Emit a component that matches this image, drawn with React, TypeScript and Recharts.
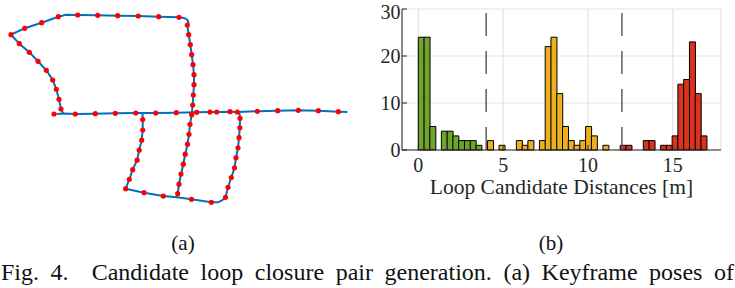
import {
  ComposedChart,
  Line,
  Scatter,
  Bar,
  Cell,
  XAxis,
  YAxis,
  CartesianGrid,
  ReferenceLine,
  Label,
} from "recharts";

// (a) keyframe poses, metres (x east, y north)
const keyframes: [number, number][] = [
  // main corridor
  [0.0, 0.0], [2.13, 0.0], [4.13, 0.03], [6.13, 0.07], [8.17, 0.1], [10.17, 0.1],
  [12.23, 0.13], [14.27, 0.17], [15.6, 0.2], [16.27, 0.2], [17.6, 0.23], [18.33, 0.2],
  [20.33, 0.27], [22.37, 0.33], [24.43, 0.37], [26.43, 0.33], [28.43, 0.23],
  // upper loop
  [0.7, 0.5], [0.5, 1.47], [0.23, 2.47], [-0.13, 3.4], [-0.77, 4.37], [-1.6, 5.27],
  [-2.47, 6.17], [-3.47, 7.03], [-4.3, 7.93], [-2.93, 8.57], [-1.23, 9.13], [0.43, 9.73],
  [2.37, 9.9], [4.37, 9.87], [6.37, 9.83], [8.43, 9.8], [10.47, 9.73], [12.5, 9.67],
  [13.33, 8.9], [13.47, 7.93], [13.63, 6.93], [13.77, 5.93], [13.9, 4.93], [14.0, 3.93],
  [14.0, 2.93], [13.93, 1.9], [13.87, 0.9], [13.77, -0.07], [13.6, -1.03], [13.5, -2.03],
  [13.35, -3.02], [13.12, -4.02], [12.93, -5.02], [12.7, -6.0], [12.5, -7.02], [12.37, -7.97],
  // lower loop
  [8.87, -0.55], [8.87, -1.6], [8.77, -2.62], [8.52, -3.62], [8.31, -4.62], [7.87, -5.57],
  [7.53, -6.53], [7.17, -7.47], [9.0, -7.87], [10.93, -8.21], [13.75, -8.53], [15.73, -8.83],
  [17.15, -8.33], [17.4, -7.33], [17.73, -6.35], [18.05, -5.38], [18.2, -4.38], [18.4, -3.38],
  [18.5, -2.37], [18.58, -1.38], [18.6, -0.43],
];

const corridorPath: [number, number][] = [
  [0.25, 0.0], [0.93, 0.04], [2.13, 0.0], [4.13, 0.03], [6.13, 0.07], [8.17, 0.1],
  [10.17, 0.1], [12.23, 0.13], [14.27, 0.17], [15.6, 0.2], [16.27, 0.2], [17.6, 0.23],
  [18.33, 0.2], [20.33, 0.27], [22.37, 0.33], [24.43, 0.37], [26.43, 0.33], [28.43, 0.23],
  [29.33, 0.2],
];

const upperPath: [number, number][] = [
  [0.93, 0.04], [0.7, 0.5], [0.5, 1.47], [0.23, 2.47], [-0.13, 3.4], [-0.77, 4.37],
  [-1.6, 5.27], [-2.47, 6.17], [-3.47, 7.03], [-4.3, 7.93], [-2.93, 8.57], [-1.23, 9.13],
  [0.43, 9.73], [1.2, 9.92], [2.37, 9.9], [4.37, 9.87], [6.37, 9.83], [8.43, 9.8],
  [10.47, 9.73], [12.5, 9.67], [13.0, 9.6], [13.35, 9.4], [13.45, 9.1], [13.33, 8.9],
  [13.47, 7.93], [13.63, 6.93], [13.77, 5.93], [13.9, 4.93], [14.0, 3.93], [14.0, 2.93],
  [13.93, 1.9], [13.87, 0.9], [13.77, -0.07], [13.6, -1.03], [13.5, -2.03], [13.35, -3.02],
  [13.12, -4.02], [12.93, -5.02], [12.7, -6.0], [12.5, -7.02], [12.37, -7.97], [12.27, -8.27],
];

const lowerPath: [number, number][] = [
  [8.85, 0.1], [8.87, -0.55], [8.87, -1.6], [8.77, -2.62], [8.52, -3.62], [8.31, -4.62],
  [7.87, -5.57], [7.53, -6.53], [7.17, -7.47], [9.0, -7.87], [10.93, -8.21], [12.27, -8.32],
  [13.75, -8.53], [15.73, -8.83], [16.4, -8.83], [16.8, -8.65], [17.15, -8.33], [17.4, -7.33],
  [17.73, -6.35], [18.05, -5.38], [18.2, -4.38], [18.4, -3.38], [18.5, -2.37], [18.58, -1.38],
  [18.6, -0.43], [18.55, 0.05], [18.43, 0.2],
];

// (b) histogram of loop candidate distances
const binCenters = [
  0.17, 0.51, 0.85, 1.19, 1.53, 1.87, 2.21, 2.55, 2.89, 3.23,
  3.57, 3.91, 4.25, 4.59, 4.93, 5.27, 5.61, 5.95, 6.29, 6.63,
  6.97, 7.31, 7.65, 7.99, 8.33, 8.67, 9.01, 9.35, 9.69, 10.03,
  10.37, 10.71, 11.05, 11.39, 11.73, 12.07, 12.41, 12.75, 13.09, 13.43,
  13.77, 14.11, 14.45, 14.79, 15.13, 15.47, 15.81, 16.15, 16.49, 16.83,
];
const binCounts = [
  24, 24, 5, 0, 4, 4, 3, 2, 2, 2,
  1, 0, 2, 0, 1, 0, 0, 2, 1, 2,
  0, 2, 22, 24, 12, 5, 2, 1, 2, 5,
  3, 0, 1, 0, 0, 1, 1, 0, 0, 2,
  2, 0, 1, 1, 3, 14, 15, 23, 12, 3,
];
const thresholds = [4, 12];
const xTicks = [0, 5, 10, 15];
const yTicks = [0, 10, 20, 30];

const serif = "Liberation Serif, Times New Roman, serif";
const axisColor = "#262626";

const toPoints = (pts: [number, number][]) => pts.map(([x, y]) => ({ x, y }));

const histData = binCenters.map((x, i) => ({ x, count: binCounts[i] }));

const binColor = (x: number) =>
  x < thresholds[0] ? "#6fa32b" : x < thresholds[1] ? "#ecb01e" : "#d9321d";

const tickStyle = { fill: axisColor, fontSize: 20, fontFamily: serif };

const TrajectoryPlot = () => (
  <ComposedChart
    width={360}
    height={220}
    margin={{ top: 0, right: 0, bottom: 0, left: 0 }}
  >
    <XAxis type="number" dataKey="x" domain={[-5.4, 30.6]} hide allowDataOverflow />
    <YAxis type="number" dataKey="y" domain={[-10.6, 11.4]} hide allowDataOverflow />
    {[corridorPath, upperPath, lowerPath].map((p, i) => (
      <Line
        key={i}
        data={toPoints(p)}
        dataKey="y"
        type="linear"
        stroke="#0072bd"
        strokeWidth={2}
        dot={false}
        activeDot={false}
        isAnimationActive={false}
      />
    ))}
    <Scatter
      data={toPoints(keyframes)}
      isAnimationActive={false}
      activeShape={(p: any) => <circle cx={p.cx} cy={p.cy} r={2.6} fill="#ff0000" />}
      shape={(p: any) => <circle cx={p.cx} cy={p.cy} r={2.6} fill="#ff0000" />}
    />
  </ComposedChart>
);

const Histogram = () => (
  <ComposedChart
    width={365}
    height={200}
    data={histData}
    margin={{ top: 9, right: 14, bottom: 0, left: 0 }}
    barCategoryGap={0}
    barGap={0}
    style={{ fontFamily: serif }}
  >
    <CartesianGrid stroke="#e3e3e3" strokeWidth={1.2} />
    <XAxis
      type="number"
      dataKey="x"
      domain={[-0.96, 17.84]}
      ticks={xTicks}
      height={50}
      tickSize={-5}
      tickMargin={13}
      stroke={axisColor}
      tick={tickStyle}
      allowDataOverflow
    >
      <Label
        value="Loop Candidate Distances [m]"
        position="insideBottom"
        offset={6}
        fill={axisColor}
        fontSize={21.5}
        fontFamily={serif}
      />
    </XAxis>
    <XAxis
      xAxisId="top"
      orientation="top"
      type="number"
      dataKey="x"
      domain={[-0.96, 17.84]}
      ticks={xTicks}
      height={0}
      tickSize={-5}
      tickFormatter={() => ""}
      stroke={axisColor}
      allowDataOverflow
    />
    <YAxis
      type="number"
      domain={[0, 30]}
      ticks={yTicks}
      width={32}
      tickSize={-5}
      tickMargin={6.5}
      stroke={axisColor}
      tick={tickStyle}
    />
    <YAxis
      yAxisId="right"
      orientation="right"
      type="number"
      domain={[0, 30]}
      ticks={yTicks}
      width={0}
      tickSize={-5}
      tickFormatter={() => ""}
      stroke={axisColor}
    />
    <Bar dataKey="count" stroke="#000" strokeWidth={1} isAnimationActive={false}>
      {histData.map((d, i) => (
        <Cell key={i} fill={binColor(d.x)} />
      ))}
    </Bar>
    {thresholds.map((t) => (
      <ReferenceLine
        key={t}
        x={t}
        stroke="#5e5e5e"
        strokeWidth={1.5}
        strokeDasharray="23 15"
      />
    ))}
  </ComposedChart>
);

const captionStyle = {
  position: "absolute" as const,
  top: 231,
  width: 100,
  textAlign: "center" as const,
  fontSize: 21,
  lineHeight: "24px",
};

const App = () => (
  <div
    style={{
      position: "absolute",
      left: 0,
      top: 0,
      width: 735,
      height: 288,
      background: "#fff",
      fontFamily: serif,
      color: "#111",
      overflow: "hidden",
    }}
  >
    <div style={{ position: "absolute", left: 0, top: 0 }}>
      <TrajectoryPlot />
    </div>
    <div style={{ position: "absolute", left: 370, top: 0 }}>
      <Histogram />
    </div>
    <div style={{ ...captionStyle, left: 133 }}>(a)</div>
    <div style={{ ...captionStyle, left: 501 }}>(b)</div>
    <div
      style={{
        position: "absolute",
        left: 1,
        top: 258,
        width: 733,
        fontSize: 24,
        lineHeight: "28px",
        textAlign: "justify",
        textAlignLast: "justify",
        whiteSpace: "nowrap",
      }}
    >
      Fig. 4.&nbsp; Candidate loop closure pair generation. (a) Keyframe poses of
    </div>
  </div>
);

export default App;
